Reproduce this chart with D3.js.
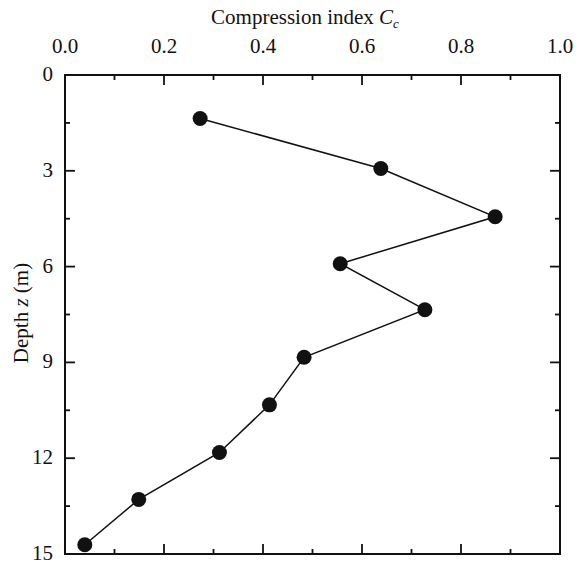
<!DOCTYPE html>
<html>
<head>
    <script type="text/javascript" src="https://cdn.jsdelivr.net/npm/d3@7"></script>
    <style>
        body { margin: 0; background: #fff; }
        text { font-family: "Liberation Serif", "DejaVu Serif", serif; fill: #111; }
    </style>
</head>
<body>
    <div id="chart"></div>
    <script type="text/javascript">

        // values
        let cc    = [0.273, 0.638, 0.869, 0.556, 0.727, 0.483, 0.413, 0.312, 0.149, 0.040];
        let depth = [1.36, 2.93, 4.44, 5.91, 7.35, 8.84, 10.33, 11.82, 13.29, 14.71];
        let xTicks = [0, 0.2, 0.4, 0.6, 0.8, 1.0];
        let yTicks = [0, 3, 6, 9, 12, 15];

        let width = 580, height = 564;
        let plotLeft = 65, plotRight = 560, plotTop = 75, plotBottom = 554;

        let x = d3.scaleLinear().domain([0, 1]).range([plotLeft, plotRight]);
        let y = d3.scaleLinear().domain([0, 15]).range([plotTop, plotBottom]);

        let points = [];
        for (let i = 0; i < cc.length; i++) {
            points.push([cc[i], depth[i]]);
        }

        let svg = d3.select("#chart")
            .append("svg")
            .attr("width", width)
            .attr("height", height);

        let xMinor = d3.range(0, 1.0001, 0.1);
        let yMinor = d3.range(0, 15.0001, 1.5);
        const isMajorX = v => Math.abs(v * 5 - Math.round(v * 5)) < 1e-6;
        const isMajorY = v => Math.abs(v / 3 - Math.round(v / 3)) < 1e-6;

        // inward ticks on all four sides
        let tickG = svg.append("g").attr("stroke", "#111").attr("stroke-width", 1.8);
        xMinor.forEach(v => {
            let len = isMajorX(v) ? 10 : 5;
            tickG.append("line").attr("x1", x(v)).attr("x2", x(v))
                .attr("y1", plotBottom).attr("y2", plotBottom - len);
            tickG.append("line").attr("x1", x(v)).attr("x2", x(v))
                .attr("y1", plotTop).attr("y2", plotTop + len);
        });
        yMinor.forEach(v => {
            let len = isMajorY(v) ? 10 : 5;
            tickG.append("line").attr("x1", plotLeft).attr("x2", plotLeft + len)
                .attr("y1", y(v)).attr("y2", y(v));
            tickG.append("line").attr("x1", plotRight).attr("x2", plotRight - len)
                .attr("y1", y(v)).attr("y2", y(v));
        });

        svg.append("rect")
            .attr("x", plotLeft).attr("y", plotTop)
            .attr("width", plotRight - plotLeft).attr("height", plotBottom - plotTop)
            .attr("fill", "none").attr("stroke", "#111").attr("stroke-width", 2);

        // tick labels
        svg.selectAll(".xlab")
            .data(xTicks)
            .enter()
            .append("text")
            .attr("x", d => x(d))
            .attr("y", 53)
            .attr("text-anchor", "middle")
            .style("font-size", "21px")
            .text(d => d.toFixed(1));

        svg.selectAll(".ylab")
            .data(yTicks)
            .enter()
            .append("text")
            .attr("x", 53)
            .attr("y", d => y(d) + 6)
            .attr("text-anchor", "end")
            .style("font-size", "21px")
            .text(d => d);

        // axis titles
        let title = svg.append("text")
            .attr("x", 305)
            .attr("y", 24)
            .attr("text-anchor", "middle")
            .style("font-size", "21px");
        title.append("tspan").text("Compression index ");
        title.append("tspan").style("font-style", "italic").text("C");
        title.append("tspan").style("font-style", "italic").style("font-size", "13px")
            .attr("dy", 4).text("c");

        let ylab = svg.append("text")
            .attr("transform", "translate(28," + 313 + ") rotate(-90)")
            .attr("text-anchor", "middle")
            .style("font-size", "21px");
        ylab.append("tspan").text("Depth ");
        ylab.append("tspan").style("font-style", "italic").text("z");
        ylab.append("tspan").text(" (m)");

        // data
        let line = d3.line().x(d => x(d[0])).y(d => y(d[1]));
        svg.append("path")
            .datum(points)
            .attr("d", line)
            .attr("fill", "none")
            .attr("stroke", "#111")
            .attr("stroke-width", 1.5);

        svg.selectAll("circle")
            .data(points)
            .enter()
            .append("circle")
            .attr("cx", d => x(d[0]))
            .attr("cy", d => y(d[1]))
            .attr("r", 7.5)
            .style("fill", "#111");

    </script>
</body>
</html>
